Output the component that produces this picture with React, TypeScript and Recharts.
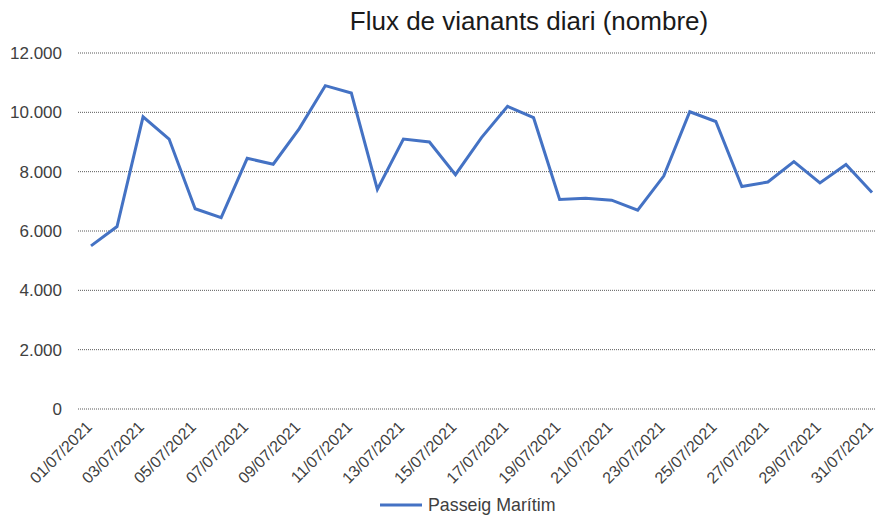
import React from "react";
import { LineChart, Line, XAxis, YAxis, CartesianGrid, Legend } from "recharts";

const days = [
  "01/07/2021", "02/07/2021", "03/07/2021", "04/07/2021", "05/07/2021", "06/07/2021",
  "07/07/2021", "08/07/2021", "09/07/2021", "10/07/2021", "11/07/2021", "12/07/2021",
  "13/07/2021", "14/07/2021", "15/07/2021", "16/07/2021", "17/07/2021", "18/07/2021",
  "19/07/2021", "20/07/2021", "21/07/2021", "22/07/2021", "23/07/2021", "24/07/2021",
  "25/07/2021", "26/07/2021", "27/07/2021", "28/07/2021", "29/07/2021", "30/07/2021",
  "31/07/2021",
];

const passeigMaritim = [
  5500, 6150, 9850, 9100, 6750, 6450, 8450, 8250, 9450, 10900, 10650, 7400, 9100, 9000,
  7900, 9150, 10200, 9820, 7060, 7100, 7040, 6700, 7850, 10020, 9690, 7500, 7650, 8340,
  7620, 8240, 7300,
];

const yTicks = [0, 2000, 4000, 6000, 8000, 10000, 12000];

const FONT = '"Liberation Sans", Arial, sans-serif';
const LINE_COLOR = "#4472C4";

const data = days.map((d, i) => ({ day: d, value: passeigMaritim[i] }));

const fmt = (n: number) => String(n).replace(/\B(?=(\d{3})+(?!\d))/g, ".");

// rotated date labels, end of the text sits just under the tick
function DateTick(props: any) {
  const { x, y, payload } = props;
  return (
    <g transform={`translate(${x + 2},${y + 17}) rotate(-45)`}>
      <text x={0} y={0} textAnchor="end" fill="#404040" fontSize={16} fontFamily={FONT}>
        {payload.value}
      </text>
    </g>
  );
}

function LegendContent() {
  return (
    <div
      style={{
        height: 26,
        display: "flex",
        alignItems: "center",
        paddingLeft: 380,
        paddingTop: 3,
        fontFamily: FONT,
      }}
    >
      <svg width={42} height={6} style={{ marginRight: 6 }}>
        <line x1={0} y1={3} x2={42} y2={3} stroke={LINE_COLOR} strokeWidth={3} />
      </svg>
      <span style={{ fontSize: 17.8, color: "#404040" }}>Passeig Marítim</span>
    </div>
  );
}

export default function App() {
  return (
    <div
      style={{
        position: "absolute",
        left: 0,
        top: 0,
        width: 876,
        height: 515,
        overflow: "hidden",
        background: "#fff",
      }}
    >
      <div
        style={{
          position: "absolute",
          left: 0,
          top: 6,
          width: 1058,
          textAlign: "center",
          fontFamily: FONT,
          fontSize: 26,
          color: "#1a1a1a",
        }}
      >
        Flux de vianants diari (nombre)
      </div>
      <LineChart
        width={890}
        height={515}
        data={data}
        margin={{ top: 53, right: 5, left: 0, bottom: 0 }}
      >
        <CartesianGrid vertical={false} stroke="#595959" strokeDasharray="1 1" />
        <XAxis
          dataKey="day"
          interval={1}
          axisLine={false}
          tickLine={false}
          tickSize={0}
          height={80}
          padding={{ left: 13, right: 13 }}
          tick={<DateTick />}
        />
        <YAxis
          domain={[0, 12000]}
          ticks={yTicks}
          tickFormatter={fmt}
          axisLine={false}
          tickLine={false}
          tickSize={0}
          tickMargin={16}
          width={78}
          tick={{ fill: "#404040", fontSize: 17, fontFamily: FONT }}
        />
        <Legend verticalAlign="bottom" height={26} content={<LegendContent />} />
        <Line
          type="linear"
          dataKey="value"
          name="Passeig Marítim"
          stroke={LINE_COLOR}
          strokeWidth={3}
          dot={false}
          isAnimationActive={false}
        />
      </LineChart>
    </div>
  );
}
